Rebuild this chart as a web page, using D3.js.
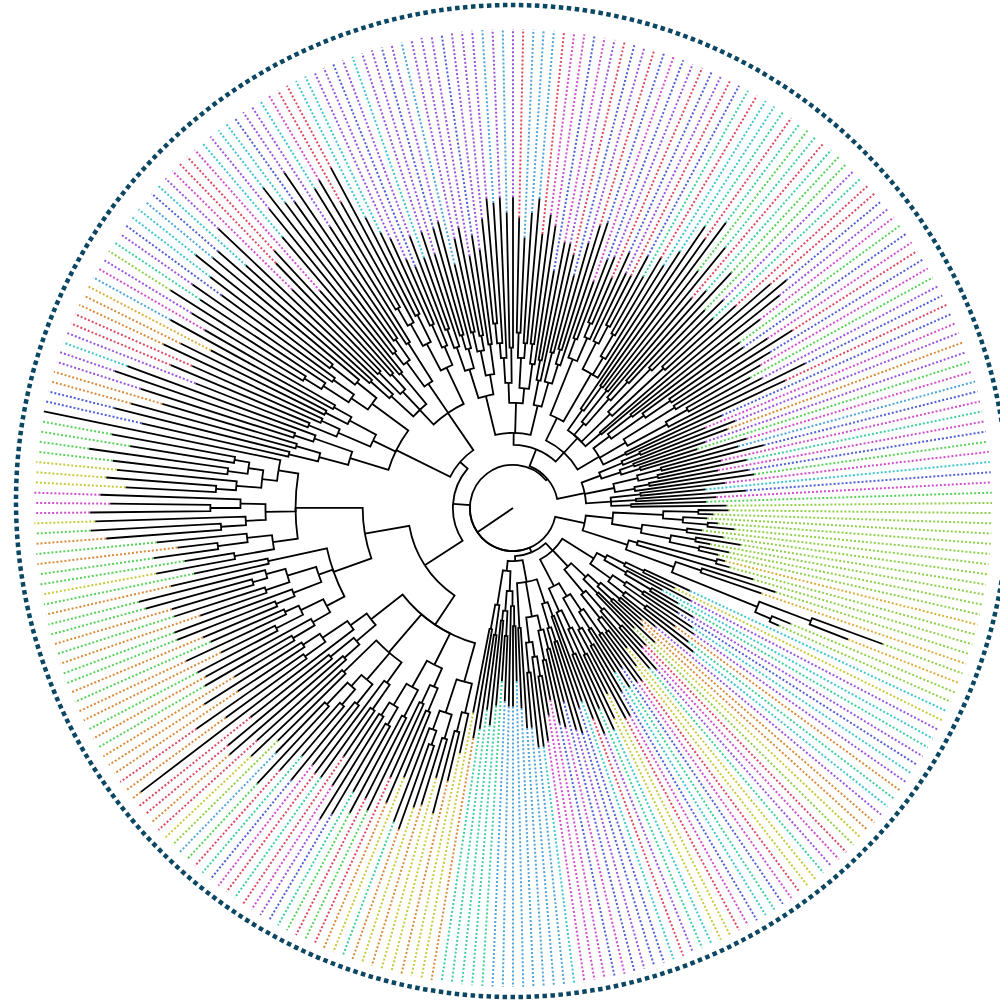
<!DOCTYPE html>
<html>
<head>
<meta charset="utf-8">
<script src="https://cdn.jsdelivr.net/npm/d3@7"></script>
<style>
body { margin: 0; background: #fff; }
</style>
</head>
<body>
<div id="chart"></div>
<script>
// radial phylogram, black branches + coloured dotted leaf extensions

var width = 1000,
height = 1002,
cx = 513, cy = 508,
innerRadius = 479,
ringX = 512, ringY = 501, ringR = 496;

// leaf colour categories
const palette = {
	L: "#8fd04a", G: "#58d25a", Y: "#c8ca3c", A: "#dcb03c", O: "#da8c3c",
	R: "#dc4a62", M: "#d24fcf", P: "#9a55e0", B: "#5060d6", S: "#4fa5dc",
	C: "#3fc6d0", T: "#3fcf9a"
};

// clades, newick with branch lengths (clockwise from 3 o'clock)
const cladeA = "(((:30,:15):35,(:24,(:10,:27):25):20):50,((:15,:37):45,((:45,:15):25,(:30,:20):30):30):30):27";
const cladeB = "(((:8,:14):81,:121):9,((:77,:64):27,((:75,:41):55,(:20,:10):17):92):51):47";
const cladeC1 = "((((:50,:35):20,:75):20,(:40,(:30,:50):30):25):10,(((:40,:60):20,:85):15,((:35,:55):25,:90):20):25):37";
const cladeC2 = "((((:45,:30):25,(:40,:60):20):15,(:50,:70):20):20,(((:30,:55):25,:75):25,(:40,(:45,:60):15):30):30):22";
const cladeC3 = "((((:60,:40):30,(:70,:50):20):20,((:55,:80):20,:100):35):15,(((:45,:70):30,:110):20,(:60,:85):45):25):30";
const cladeD1 = "(((:110,:90):15,((:70,:95):15,:105):25):25,(((:55,:80):20,(:65,:40):30):15,(((:40,:65):20,:90):15,(:75,:55):30):25):35,(:100,:80):45):22";
const cladeD2 = "((((:55,:80):20,:100):15,((:65,:45):25,(:85,:105):10):20):20,((:75,:95):30,(:110,:85):25):35):10";
const cladeG1 = "((:40,(:50,:85):20):30,((:40,:70):25,((:65,:90):15,:100):20):35):40";
const cladeG2 = "(((:70,:100):25,(:80,:120):20):20,((:90,:110):30,((:75,:105):20,(:120,:85):15):25):30):35";
const cladeG3 = "(((:55,:85):30,:115):25,((:75,:100):25,((:65,:90):20,(:105,:70):30):15):35,(:95,:125):45):50";
const cladeG4 = "(((:120,:150):20,(:135,:100):30):25,(:267,((:100,:130):25,(:80,:115):20):30):20):40";
const cladeH1 = "((((:70,:100):25,:120):20,((:90,:60):30,(:110,:80):15):25):20,(((:80,:105):20,:125):30,((:70,:95):25,((:85,:110):15,:130):20):30):15,(:100,:75):60):40";
const cladeH2 = "(((:80,:50):40,((:65,:40):30,:90):25):25,(((:115,:130):25,:150):20,((:120,:100):30,:140):25):30,((((:90,:110):20,:120):25,((:115,:140):20,(:105,:125):15):15):15,:241):20):67";
const cladeI1 = "((((:150,:180):30,(:170,:140):25):30,((:160,:190):20,:200):40):40,(((:120,:150):30,(:140,:175):20):35,((:160,:130):25,(:185,:150):20):30):25,((((:130,:160):20,:150):30,(:170,:140):25):20,((:150,:175):30,:190):25):45):60";
const cladeI2 = "((((:200,:170):25,:240):30,((:120,:150):30,(:170,:110):20):25,(:180,:210):40):20,(((:210,:185):15,(:170,:200):25):30,(:140,:180):45):35,((((:150,:120):20,:175):25,(:110,:90):30):30,((:95,:70):25,:85):20):40):45";
const cladeJ1 = "((((:100,:75):20,:120):25,((:85,:110):15,:130):20):30,(((:70,:95):20,(:110,:80):15):25,(:110,:95):30):20):40";
const cladeJ2 = "(((((:105,:125):20,:140):15,:160):25,(:135,:150):35):20,(((:115,:95):25,(:130,:145):15):30,((:110,:130):20,:140):25):15):30";
const cladeJ3 = "(((:90,:120):20,:140):25,((:100,:80):30,((:110,:130):15,:150):20):25):30";
const cladeK1 = "(((:60,:85):20,((:70,:50):15,:95):25):60,((:75,(:55,:80):20):30,((:65,:90):25,:110):20,:150):55):25";
const cladeK2 = "((:220,(:180,:205):30):25,((:150,:185):40,(:130,(:120,:150):25):35):15,((:80,:100):60,(:70,:95):70):40,(:225,:240):20):20";
const cladeK3 = "(((:190,:160):30,(:120,(:90,:115):30):40):20,((:140,:110):60,((:85,:70):25,:105):45):30,(:200,:175):25):25";
const cladeX5 = "((((:90,:70):20,:120):25,((:100,:75):15,(:60,:110):20):20):20,(((:80,:105):25,(:65,:90):20):25,((:70,:100):15,:120):20):30,((:85,:65):30,(:110,:80):25,(:75,:95):20):25):28";

// leaf colours in the same order as the leaves
const leafColors = [
	"LLLLLLLLLLLALLLALALL",
	"CYPCTPBCPOTCPOOYLRMPTYYRMBTCBMRYYCTP",
	"RCBBPBMBMMMCSSSSSSSSTTTTTOY",
	"YOYYOYOTYORGRGTBPMRTRMBTRGSLYRORROOROO",
	"OGOGOOGOGGOGOGGOGYGGOGOGYMMMYYYGGGGG",
	"BBOOPPCPRROOASMPLTPBCCS",
	"BCPMRRMCPCCBPPCMRRCCPPB",
	"PCPPBPSPPPBPPPSPSPRSSSRMMBMPRBPRB",
	"MBPRBPRBTRCCTRTGTRTGGPTRRBPMGBMRBMGPBR",
	"BMPOPGMSBMTMBGMCBMGL"
].join("");

const nodeX1 = `(${cladeA},${cladeB}):30`;
const nodeLow = `((${cladeC1},${cladeC2},${cladeC3}):10,(${cladeD1},${cladeD2}):5):5`;
const nodeLeft = `(((${cladeG1},${cladeG2},${cladeG3},${cladeG4}):35,(${cladeH1},${cladeH2}):45):45,(${cladeI1},${cladeI2}):10):17`;
const nodeRest = `(((${cladeJ1},${cladeJ2},${cladeJ3}):12,(${cladeK1},${cladeK2},${cladeK3}):12):18,${cladeX5}):2`;
const newick = `((${nodeX1},${nodeLow},${nodeLeft},${nodeRest}):43);`;

// small newick parser
function parseNewick(a) {
	var ancestors = [], tree = {}, tokens = a.split(/\s*(;|\(|\)|,|:)\s*/);
	for (var i = 0; i < tokens.length; i++) {
		var token = tokens[i], subtree;
		switch (token) {
			case "(":
				subtree = {};
				tree.branchset = [subtree];
				ancestors.push(tree);
				tree = subtree;
				break;
			case ",":
				subtree = {};
				ancestors[ancestors.length - 1].branchset.push(subtree);
				tree = subtree;
				break;
			case ")":
				tree = ancestors.pop();
				break;
			case ":":
				break;
			default:
				var x = tokens[i - 1];
				if (x == ")" || x == "(" || x == ",") tree.name = token;
				else if (x == ":") tree.length = parseFloat(token);
		}
	}
	return tree;
}

function maxLength(d) {
	return (d.data.length || 0) + (d.children ? d3.max(d.children, maxLength) : 0);
}

function setRadius(d, y0, rScale) {
	y0 += (d.data.length || 0);
	d.radius = rScale(y0);
	if (d.children) d.children.forEach(c => setRadius(c, y0, rScale));
}

// path: arc along parent radius then straight out
function linkStep(a0, r0, a1, r1) {
	var t0 = a0 * Math.PI / 180, t1 = a1 * Math.PI / 180;
	var c0 = Math.cos(t0), s0 = Math.sin(t0), c1 = Math.cos(t1), s1 = Math.sin(t1);
	return "M" + r0 * c0 + "," + r0 * s0
		+ (a0 === a1 ? "" : "A" + r0 + "," + r0 + " 0 " + (Math.abs(a1 - a0) > 180 ? 1 : 0) + " " + (a1 > a0 ? 1 : 0) + " " + r0 * c1 + "," + r0 * s1)
		+ "L" + r1 * c1 + "," + r1 * s1;
}

var root = d3.hierarchy(parseNewick(newick), d => d.branchset);
root.data.length = 0;

d3.cluster()
	.size([360, innerRadius])
	.separation(() => 1)(root);

var rScale = d3.scaleLinear()
	.domain([0, maxLength(root)])
	.range([0, innerRadius]);

setRadius(root, 0, rScale);

root.leaves().forEach((d, i) => { d.color = palette[leafColors[i]] || "#999"; });

var svg = d3.select("#chart")
	.append("svg")
	.attr("width", width)
	.attr("height", height);

// outer dashed ring
svg.append("circle")
	.attr("cx", ringX)
	.attr("cy", ringY)
	.attr("r", ringR)
	.attr("fill", "none")
	.attr("stroke", "#0b4763")
	.attr("stroke-width", 4.5)
	.attr("stroke-dasharray", "4.5,3.5");

var g = svg.append("g")
	.attr("transform", `translate(${cx},${cy})`);

// dotted extensions to the rim
g.append("g")
	.attr("fill", "none")
	.attr("stroke-width", 2)
	.attr("stroke-dasharray", "2,2")
	.selectAll("path")
	.data(root.leaves())
	.join("path")
	.attr("stroke", d => d.color)
	.attr("d", d => linkStep(d.x, d.radius, d.x, innerRadius));

// branches
g.append("g")
	.attr("fill", "none")
	.attr("stroke", "#000")
	.attr("stroke-width", 1.8)
	.selectAll("path")
	.data(root.links())
	.join("path")
	.attr("d", d => linkStep(d.source.x, d.source.radius, d.target.x, d.target.radius));
</script>
</body>
</html>
